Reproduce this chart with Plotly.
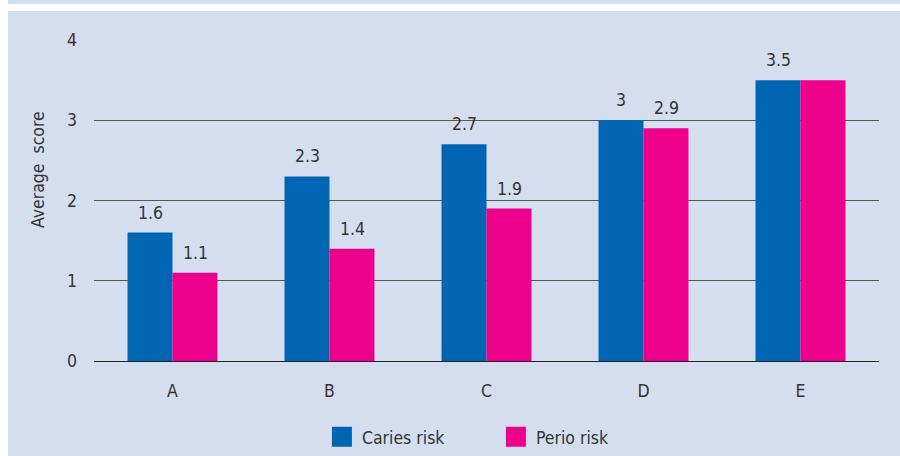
import plotly.graph_objects as go

categories = ["A", "B", "C", "D", "E"]
caries = [1.6, 2.3, 2.7, 3.0, 3.5]
perio = [1.1, 1.4, 1.9, 2.9, 3.5]
caries_labels = ["1.6", "2.3", "2.7", "3", "3.5"]
perio_labels = ["1.1", "1.4", "1.9", "2.9", ""]
y_ticks = [0, 1, 2, 3, 4]

BLUE = "#0066b3"
PINK = "#ec008c"
BG = "#d5deef"
TXT = "#333333"
FONT = "Liberation Sans Narrow, DejaVu Sans Condensed, Roboto, sans-serif"

fig = go.Figure()
fig.add_trace(go.Bar(x=categories, y=caries, name="Caries risk", marker_color=BLUE,
                     marker_line_width=0, showlegend=False))
fig.add_trace(go.Bar(x=categories, y=perio, name="Perio risk", marker_color=PINK,
                     marker_line_width=0, showlegend=False))
# legend entries
fig.add_trace(go.Scatter(x=[None], y=[None], mode="markers", name="Caries risk",
                         marker=dict(symbol="square", size=16, color=BLUE,
                                     line=dict(color=BLUE, width=4))))
fig.add_trace(go.Scatter(x=[None], y=[None], mode="markers", name="Perio risk",
                         marker=dict(symbol="square", size=16, color=PINK,
                                     line=dict(color=PINK, width=4))))

annotations = []
for c, v, t in zip(categories, caries, caries_labels):
    if t:
        annotations.append(dict(x=c, y=v, text=t, showarrow=False, xshift=-22.5,
                                yanchor="bottom", yshift=8,
                                font=dict(family=FONT, size=17.5, color=TXT)))
for c, v, t in zip(categories, perio, perio_labels):
    if t:
        annotations.append(dict(x=c, y=v, text=t, showarrow=False, xshift=22.5,
                                yanchor="bottom", yshift=8,
                                font=dict(family=FONT, size=17.5, color=TXT)))
# y-axis title (placed slightly above the plot centre, as in the original)
annotations.append(dict(text="Average  score", xref="paper", yref="paper",
                        x=-0.0713, y=0.595, textangle=-90, showarrow=False,
                        xanchor="center", yanchor="middle",
                        font=dict(family=FONT, size=17.5, color=TXT)))

fig.update_layout(
    width=900, height=456,
    margin=dict(l=94, r=21, t=40, b=95, autoexpand=False),
    paper_bgcolor=BG, plot_bgcolor=BG,
    font=dict(family=FONT, size=17.5, color=TXT),
    barmode="group", bargap=0.427, bargroupgap=0,
    annotations=annotations,
    showlegend=True,
    legend=dict(orientation="h", x=0.512, xanchor="center",
                yref="container", y=0.0417, yanchor="middle",
                font=dict(family=FONT, size=17.5, color=TXT), entrywidth=129,
                bgcolor="rgba(0,0,0,0)"),
    shapes=[
        dict(type="rect", xref="paper", yref="paper", x0=-0.125, x1=-0.1096,
             y0=-0.35, y1=1.2, fillcolor="white", line_width=0, layer="below"),
        dict(type="rect", xref="paper", yref="paper", x0=-0.125, x1=1.05,
             y0=1.0903, y1=1.1121, fillcolor="white", line_width=0, layer="below"),
    ],
)
fig.update_xaxes(type="category", showgrid=False, showline=False, ticks="",
                 ticklabelstandoff=17, tickfont=dict(size=17.5))
fig.update_yaxes(range=[0, 4], tickvals=y_ticks, showgrid=True, gridcolor="#555555",
                 gridwidth=1, zeroline=True, zerolinecolor="#222222", zerolinewidth=1,
                 showline=False, ticks="", ticklabelstandoff=16, tickfont=dict(size=17.5))

fig.write_html("out.html")
